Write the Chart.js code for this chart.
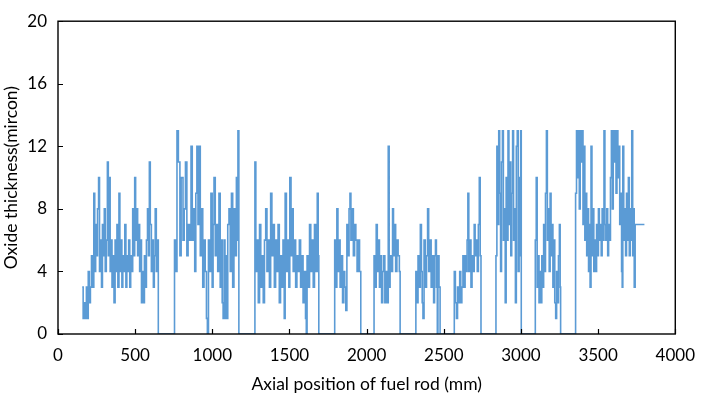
<!DOCTYPE html>
<html>
<head>
<meta charset="utf-8">
<script src="https://cdn.jsdelivr.net/npm/chart.js@4/dist/chart.umd.min.js"></script>
<style>
  html, body { margin: 0; padding: 0; background: #fff; }
  #wrap { width: 706px; height: 399px; }
</style>
</head>
<body>
<div id="wrap"><canvas id="c" width="706" height="399"></canvas></div>
<script>
// Axial position (mm) and oxide thickness (micron)
const positionsMm = [
  157,163,170,177,184,190,196,203,210,217,224,232,238,244,250,256,263,269,276,282,288,294,300,306,313,320,326,331,338,344,350,357,363,370,376,382,388,395,401,408,414,420,427,433,440,446,452,458,465,471,478,484,490,497,503,510,516,522,529,535,541,548,554,560,567,573,580,586,592,598,605,611,618,624,630,637,644,650,
  752,755,765,771,780,790,798,810,818,826,835,843,852,862,870,878,886,893,900,907,915,922,930,938,946,954,962,968,
  975,983,991,999,1005,1011,1019,1027,1035,1043,1051,1058,1064,1070,1076,1082,1088,1094,1100,1108,1116,1124,1132,1140,1148,1156,1162,1166,1172,
  1273,1276,1282,1290,1298,1306,1314,1322,1330,1338,1346,1354,1362,1370,1378,1386,1394,1402,1410,1418,1426,1434,1442,1450,1458,1466,1472,1480,1488,1496,1502,1510,1516,1524,1532,1540,1548,1556,1564,1572,1580,1588,1596,1604,1609,
  1614,1622,1630,1638,1646,1654,1662,1670,1680,1686,1690,
  1790,1793,1800,1807,1814,1821,1828,1836,1844,1852,1858,1865,1872,1880,1886,1892,1898,1906,1914,1922,1930,1938,1946,1954,1962,
  2045,2048,2055,2062,2069,2076,2083,2090,2097,2104,2111,2118,2125,2132,2140,2146,2152,2160,2168,2174,2180,2188,2196,2204,2212,2217,
  2316,2319,2326,2333,2340,2348,2355,2360,2365,2372,2380,2388,2395,2402,2410,2418,2426,2434,2440,2446,2452,2458,2462,2469,2476,
  2565,2568,2575,2582,2589,2596,2603,2610,2617,2624,2631,2638,2645,2651,2656,2662,2669,2676,2683,2690,2697,2703,2710,2717,2724,2730,2736,2741,
  2835,2838,2844,2850,2856,2862,2868,2874,2880,2886,2892,2898,2904,2910,2916,2922,2928,2934,2940,2946,2952,2958,2964,2970,2976,2982,2988,2994,2998,3002,
  3090,3093,3099,3105,3111,3117,3123,3129,3135,3141,3147,3153,3159,3165,3171,3177,3183,3189,3195,3201,3207,3213,3219,3225,3231,3237,3243,3249,3254,3257,
  3350,3354,3360,3366,3372,3378,3384,3390,3396,3402,3408,3414,3420,3426,3432,3438,3444,3448,3454,3460,3466,3472,3478,3484,3490,3496,3502,3508,3514,3520,3526,3532,3538,3544,3550,3556,3562,3568,3574,3580,3586,3592,3598,3604,3610,3616,3622,3628,3634,3640,3646,3652,3656,3660,3666,3672,3678,3684,3690,3696,3702,3708,3714,3718,3724,3730,3734,3740,3800
];
const oxideMicron = [
  3,1,2,1,3,1,4,2,3,5,3,9,4,7,5,8,10,4,6,3,7,5,8,4,6,11,5,10,4,6,3,5,2,6,4,7,3,9,4,6,3,5,4,7,3,5,4,6,3,5,4,8,5,10,6,8,5,7,4,6,2,4,2,5,3,6,8,5,11,7,4,6,3,5,8,4,6,0,
  0,6,4,13,11,5,10,6,8,11,5,7,6,12,6,8,4,9,12,7,12,5,8,3,6,4,1,0,
  6,4,9,3,7,10,5,7,4,9,3,6,2,1,6,1,5,1,7,8,4,9,3,8,5,10,6,13,0,
  0,11,4,6,2,7,3,5,2,6,8,4,6,3,9,5,7,3,6,4,7,2,5,3,6,1,9,4,6,3,10,5,8,4,6,3,5,4,6,3,5,2,4,1,0,
  5,3,7,4,6,3,7,4,9,5,0,
  0,6,3,8,4,6,3,5,2,4,3,1.5,7,5,8,9,6,8,5,7,6,4,6,4,0,
  0,5,3,7,4,6,3,5,2,4,5,2,4,2,12,3,5,4,8,5,7,4,6,5,4,0,
  0,4,2,5,3,7,4,2,1,6,3,5,8,4,6,3,5,2,5,6,3,0,5,3,0,
  0,4,2,1,3,2,4,2,3,5,3,5,4,6,9,4,6,3,5,4,7,5,6,4,7,10,5,0,
  0,5,12,7,13,9,4,11,13,6,8,2,10,6,13,7,11,5,9,13,6,8,2,12,13,4,10,5,13,0,
  0,6,10,3,5,2,4,2,5,3,7,4,9,13,6,8,4,9,5,7,3,6,2,1,4,2,5,7,3,0,
  0,9,13,10,13,8,13,11,13,7,12,6,9,5,8,4,7,3,12,5,8,4,6,4,7,5,8,6,7,5,8,6,13,7,6,8,5,7,6,10,13,8,13,11,13,9,13,10,12,7,9,4,3,12,6,8,5,9,6,10,5,8,6,13,5,8,3,7,7
];
const xTickValues = [0, 500, 1000, 1500, 2000, 2500, 3000, 3500, 4000];
const yTickValues = [0, 4, 8, 12, 16, 20];

const points = positionsMm.map((x, i) => ({ x: x, y: oxideMicron[i] }));

const framePlugin = {
  id: 'frame',
  afterDatasetsDraw(chart) {
    const { ctx, chartArea: a, scales } = chart;
    ctx.save();
    ctx.strokeStyle = '#000';
    ctx.lineWidth = 1.4;
    ctx.strokeRect(a.left, a.top, a.right - a.left, a.bottom - a.top);
    ctx.lineWidth = 1.2;
    ctx.beginPath();
    xTickValues.forEach(v => {
      const px = Math.round(scales.x.getPixelForValue(v)) + 0.5;
      ctx.moveTo(px, a.bottom);
      ctx.lineTo(px, a.bottom - 5);
    });
    yTickValues.forEach(v => {
      const py = Math.round(scales.y.getPixelForValue(v)) + 0.5;
      ctx.moveTo(a.left, py);
      ctx.lineTo(a.left + 5, py);
    });
    ctx.stroke();
    ctx.restore();
  }
};

new Chart(document.getElementById('c'), {
  type: 'line',
  data: {
    datasets: [{
      data: points,
      borderColor: '#5B9BD5',
      borderWidth: 1.6,
      pointRadius: 0,
      stepped: true,
      tension: 0,
      fill: false
    }]
  },
  options: {
    responsive: false,
    animation: false,
    devicePixelRatio: 1,
    layout: { padding: { left: 0, right: 20, top: 8, bottom: 0 } },
    plugins: { legend: { display: false }, tooltip: { enabled: false } },
    scales: {
      x: {
        type: 'linear', min: 0, max: 4000,
        afterBuildTicks(s) { s.ticks = xTickValues.map(v => ({ value: v })); },
        afterFit(s) { s.height = 65; },
        grid: { display: false, drawTicks: false },
        border: { display: false },
        ticks: { padding: 11, color: '#000', font: { family: 'Lato', size: 17 }, maxRotation: 0, callback: v => String(v) },
        title: { display: true, text: 'Axial position of fuel rod (mm)', color: '#000', font: { family: 'Lato', size: 17.5 }, padding: { top: 0, bottom: 4 } }
      },
      y: {
        type: 'linear', min: 0, max: 20,
        afterBuildTicks(s) { s.ticks = yTickValues.map(v => ({ value: v })); },
        afterFit(s) { s.width = 58; },
        grid: { display: false, drawTicks: false },
        border: { display: false },
        ticks: { padding: 11, color: '#000', font: { family: 'Lato', size: 17 }, callback: v => String(v) },
        title: { display: true, text: 'Oxide thickness(mircon)', color: '#000', font: { family: 'Lato', size: 17.5 }, padding: { top: 1, bottom: 0 } }
      }
    }
  },
  plugins: [framePlugin]
});
</script>
</body>
</html>
